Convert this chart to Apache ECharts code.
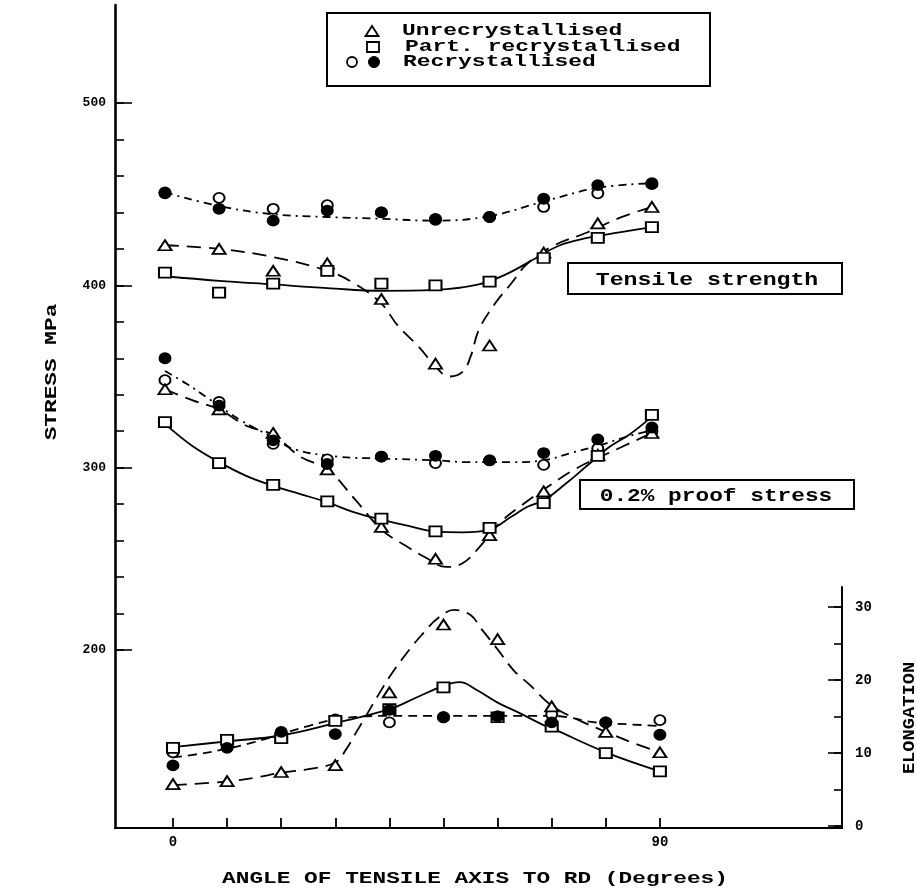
<!DOCTYPE html>
<html>
<head>
<meta charset="utf-8">
<script src="https://cdn.jsdelivr.net/npm/echarts@6/dist/echarts.min.js"></script>
<style>
html,body{margin:0;padding:0;background:#fff;}
#c{width:917px;height:889px;}
</style>
</head>
<body>
<div id="c"></div>
<script>
// ---------- DATA ----------
const angles = [0, 10, 20, 30, 40, 50, 60, 70, 80, 90];

// Tensile strength (MPa)
const tsUnrec      = [422, 420, 408, 412, 392.5, 357, 367, 418, 434, 443];
const tsPart       = [407, 396, 401, 408, 401, 400, 402, 415, 426, 432];
const tsRecOpen    = [451, 448, 442, 444, 440, 436, 437.5, 443, 450.5, 456];
const tsRecFilled  = [450.5, 442, 435.5, 441, 440, 436.5, 437.5, 447.5, 455, 455.5];

// 0.2% proof stress (MPa)
const psUnrec      = [343, 332, 319, 299, 267.5, 250, 263, 287, 307, 319];
const psPart       = [325, 302.5, 290.5, 281.5, 272, 265, 267, 280.5, 306.5, 329];
const psRecOpen    = [348, 336, 313, 304.5, 306, 302.5, 304, 301.5, 310.5, 320];
const psRecFilled  = [360, 334, 315, 302, 306, 306.5, 304, 308, 315.5, 322];

// Elongation (%)
const elUnrec      = [5.75, 6.15, 7.4, 8.35, 18.3, 27.6, 25.6, 16.4, 12.9, 10.1];
const elPart       = [10.7, 11.8, 12.05, 14.4, 16.0, 19.0, 14.9, 13.6, 10.0, 7.5];
const elRecOpen    = [10.1, 11.6, 12.3, 14.6, 14.2, 14.9, 15.0, 15.3, 14.2, 14.5];
const elRecFilled  = [8.3, 10.7, 12.9, 12.6, 15.9, 14.9, 15.0, 14.2, 14.2, 12.5];

// Fitted curves
const tsUnrecCurveX = [0, 10, 20, 30, 35, 40, 43, 47, 50, 52.5, 55, 56.5, 58, 61, 64, 67, 72, 78, 84, 90];
const tsUnrecCurveY = [422, 420, 415.5, 408, 401, 390, 378, 366, 355.5, 350, 352.5, 361, 375.5, 390, 401, 412, 422, 429, 437, 443];
const tsPartCurveX  = [0, 10, 20, 30, 40, 50, 58, 63, 68, 73, 78, 84, 90];
const tsPartCurveY  = [405, 402.5, 400.5, 398.5, 397, 397.5, 400.5, 406, 414, 422, 426, 429, 432];
const tsRecCurveX   = [0, 10, 20, 30, 40, 50, 60, 70, 80, 90];
const tsRecCurveY   = [451, 443.5, 439, 437.5, 436.5, 435.5, 438, 446, 453.5, 456];

const psUnrecCurveX = [0, 5, 10, 15, 20, 25, 30, 35, 40, 44, 48, 52, 55, 58, 62, 66, 70, 76, 82, 90];
const psUnrecCurveY = [343, 337, 332, 323, 318, 306, 299, 283, 266, 258, 251, 245.5, 247.5, 256, 270, 279.5, 288, 299.5, 308, 319];
const psPartCurveX  = [0, 5, 10, 15, 20, 25, 30, 35, 40, 45, 50, 55, 60, 64, 67, 70, 74, 78, 82, 86, 90];
const psPartCurveY  = [324, 312, 303, 295.5, 290, 285.5, 281, 275.5, 271.5, 268, 265, 264.5, 266, 273, 278.5, 282, 291, 301, 311, 318.5, 328];
const psRecCurveX   = [0, 4, 8, 14, 20, 24, 32, 40, 50, 56, 64, 70, 75, 80, 86, 90];
const psRecCurveY   = [353, 346, 338, 326, 316.5, 310, 306, 305, 304, 303, 303, 304, 308, 312, 317.5, 320.5];

const elUnrecCurveX = [0, 10, 15, 20, 25, 30, 32, 34, 36, 38, 40, 43, 46, 49, 52, 55, 57, 60, 63, 66, 70, 75, 80, 85, 90];
const elUnrecCurveY = [5.6, 6.1, 6.6, 7.3, 7.8, 8.7, 10.5, 13, 15.5, 18, 20.4, 23.5, 26.2, 28.5, 29.6, 28.9, 27, 24.2, 21.3, 19.3, 16.5, 14.5, 12.9, 11.4, 10.1];
const elPartCurveX  = [0, 10, 20, 30, 40, 45, 50, 53, 56, 60, 64, 68, 70, 80, 90];
const elPartCurveY  = [10.8, 11.6, 12.4, 14.1, 16.0, 17.6, 19.2, 19.7, 18.7, 16.9, 15.5, 14.0, 13.4, 10.1, 7.5];
const elRecCurveX   = [0, 5, 10, 15, 20, 25, 30, 35, 40, 50, 60, 70, 73, 77, 80, 85, 90];
const elRecCurveY   = [9.4, 9.9, 10.6, 11.5, 12.6, 13.7, 14.6, 15.0, 15.1, 15.1, 15.1, 15.1, 14.9, 14.3, 14.1, 13.9, 13.7];

// Tick / label values
const stressMinorTicks = [200, 220, 240, 260, 280, 300, 320, 340, 360, 380, 400, 420, 440, 460, 480, 500];
const stressLabels = [200, 300, 400, 500];
const elongMinorTicks = [0, 5, 10, 15, 20, 25, 30];
const elongLabels = [0, 10, 20, 30];
const angleTicks = [0, 10, 20, 30, 40, 50, 60, 70, 80, 90];
const angleLabels = [0, 90];

// ---------- CHART ----------
const FONT = '"Liberation Mono", "Courier New", monospace';
const pair = (xs, ys) => xs.map((x, i) => [x, ys[i]]);

function curve(xs, ys, dash, xi, yi) {
  return {
    type: 'line', data: pair(xs, ys), xAxisIndex: xi, yAxisIndex: yi,
    smooth: 0.4, symbol: 'none', silent: true, z: 2,
    lineStyle: { color: '#000', width: 1.8, type: dash, cap: 'butt' }
  };
}
function marks(ys, symbol, size, filled, xi, yi) {
  return {
    type: 'scatter', data: pair(angles, ys), xAxisIndex: xi, yAxisIndex: yi,
    symbol: symbol, symbolSize: size, silent: true, z: filled ? 4 : 3,
    itemStyle: { color: filled ? '#000' : '#fff', borderColor: '#000', borderWidth: 1.9, opacity: 1 }
  };
}

const DASH_LONG = [14, 8];
const DASH_DOT = [8, 5, 2, 5];
const DASH_SHORT = [9, 6];
const TRI = [13, 10], SQ = [12, 10], CIR = [11, 10];

const chart = echarts.init(document.getElementById('c'), null, { renderer: 'canvas' });

const option = {
  backgroundColor: '#fff',
  animation: false,
  grid: [
    { left: 115, right: 75, top: 5, bottom: 61 },
    { left: 115, right: 75, top: 587, bottom: 61 }
  ],
  xAxis: [
    { type: 'value', gridIndex: 0, min: -9.24, max: 125.14, show: false },
    {
      type: 'value', gridIndex: 1, min: -10.72, max: 123.66,
      axisLine: { show: true, onZero: false, lineStyle: { color: '#000', width: 2 } },
      axisTick: { show: true, inside: true, length: 10, customValues: angleTicks, lineStyle: { color: '#000', width: 1.8 } },
      axisLabel: { show: true, customValues: angleLabels, margin: 7, color: '#000', fontFamily: FONT, fontWeight: 'bold', fontSize: 14 },
      splitLine: { show: false }
    }
  ],
  yAxis: [
    {
      type: 'value', gridIndex: 0, position: 'left', min: 102.3, max: 553.8,
      axisLine: { show: true, onZero: false, lineStyle: { color: '#000', width: 2.6 } },
      axisTick: { show: true, inside: true, length: 9, customValues: stressMinorTicks, lineStyle: { color: '#000', width: 1.6 } },
      axisLabel: { show: true, customValues: stressLabels, margin: 9, color: '#000', fontFamily: FONT, fontWeight: 'bold', fontSize: 13 },
      splitLine: { show: false }
    },
    {
      type: 'value', gridIndex: 0, position: 'left', min: 102.3, max: 553.8,
      axisLine: { show: false, onZero: false },
      axisTick: { show: true, inside: true, length: 17, customValues: stressLabels, lineStyle: { color: '#000', width: 1.6 } },
      axisLabel: { show: false },
      splitLine: { show: false }
    },
    {
      type: 'value', gridIndex: 1, position: 'right', min: -0.27, max: 32.74,
      axisLine: { show: true, onZero: false, lineStyle: { color: '#000', width: 2 } },
      axisTick: { show: true, inside: true, length: 8, customValues: elongMinorTicks, lineStyle: { color: '#000', width: 1.6 } },
      axisLabel: { show: true, customValues: elongLabels, margin: 13, color: '#000', fontFamily: FONT, fontWeight: 'bold', fontSize: 14 },
      splitLine: { show: false }
    },
    {
      type: 'value', gridIndex: 1, position: 'right', min: -0.27, max: 32.74,
      axisLine: { show: false, onZero: false },
      axisTick: { show: true, inside: true, length: 14, customValues: elongLabels, lineStyle: { color: '#000', width: 1.6 } },
      axisLabel: { show: false },
      splitLine: { show: false }
    }
  ],
  series: [
    // curves
    curve(tsUnrecCurveX, tsUnrecCurveY, DASH_LONG, 0, 0),
    curve(tsPartCurveX, tsPartCurveY, 'solid', 0, 0),
    curve(tsRecCurveX, tsRecCurveY, DASH_DOT, 0, 0),
    curve(psUnrecCurveX, psUnrecCurveY, DASH_LONG, 0, 0),
    curve(psPartCurveX, psPartCurveY, 'solid', 0, 0),
    curve(psRecCurveX, psRecCurveY, DASH_DOT, 0, 0),
    curve(elUnrecCurveX, elUnrecCurveY, DASH_LONG, 1, 2),
    curve(elPartCurveX, elPartCurveY, 'solid', 1, 2),
    curve(elRecCurveX, elRecCurveY, DASH_SHORT, 1, 2),
    // markers
    marks(tsRecOpen, 'circle', CIR, false, 0, 0),
    marks(tsRecFilled, 'circle', CIR, true, 0, 0),
    marks(tsUnrec, 'triangle', TRI, false, 0, 0),
    marks(tsPart, 'rect', SQ, false, 0, 0),
    marks(psRecOpen, 'circle', CIR, false, 0, 0),
    marks(psRecFilled, 'circle', CIR, true, 0, 0),
    marks(psUnrec, 'triangle', TRI, false, 0, 0),
    marks(psPart, 'rect', SQ, false, 0, 0),
    marks(elRecOpen, 'circle', CIR, false, 1, 2),
    marks(elRecFilled, 'circle', CIR, true, 1, 2),
    marks(elUnrec, 'triangle', TRI, false, 1, 2),
    marks(elPart, 'rect', SQ, false, 1, 2)
  ],
  graphic: [
    // legend box
    { type: 'rect', shape: { x: 327, y: 13, width: 383, height: 73 }, style: { fill: 'none', stroke: '#000', lineWidth: 2 }, z: 10 },
    { type: 'polygon', shape: { points: [[365.5, 36], [378.5, 36], [372, 26]] }, style: { fill: '#fff', stroke: '#000', lineWidth: 1.8 }, z: 10 },
    { type: 'rect', shape: { x: 367, y: 42, width: 12, height: 10 }, style: { fill: '#fff', stroke: '#000', lineWidth: 1.8 }, z: 10 },
    { type: 'circle', shape: { cx: 352, cy: 62, r: 5 }, style: { fill: '#fff', stroke: '#000', lineWidth: 1.8 }, z: 10 },
    { type: 'circle', shape: { cx: 374, cy: 62, r: 5.5 }, style: { fill: '#000', stroke: '#000', lineWidth: 1 }, z: 10 },
    { type: 'text', x: 402, y: 31, scaleX: 1.35, z: 10,
      style: { text: 'Unrecrystallised', textAlign: 'left', verticalAlign: 'middle', fontFamily: FONT, fontWeight: 'bold', fontSize: 17, fill: '#000' } },
    { type: 'text', x: 405, y: 47, scaleX: 1.35, z: 10,
      style: { text: 'Part. recrystallised', textAlign: 'left', verticalAlign: 'middle', fontFamily: FONT, fontWeight: 'bold', fontSize: 17, fill: '#000' } },
    { type: 'text', x: 403, y: 62, scaleX: 1.35, z: 10,
      style: { text: 'Recrystallised', textAlign: 'left', verticalAlign: 'middle', fontFamily: FONT, fontWeight: 'bold', fontSize: 17, fill: '#000' } },
    // annotation boxes
    { type: 'rect', shape: { x: 568, y: 263, width: 274, height: 31 }, style: { fill: '#fff', stroke: '#000', lineWidth: 2 }, z: 10 },
    { type: 'text', x: 707, y: 280, scaleX: 1.22, z: 11,
      style: { text: 'Tensile strength', textAlign: 'center', verticalAlign: 'middle', fontFamily: FONT, fontWeight: 'bold', fontSize: 19, fill: '#000' } },
    { type: 'rect', shape: { x: 580, y: 480, width: 274, height: 29 }, style: { fill: '#fff', stroke: '#000', lineWidth: 2 }, z: 10 },
    { type: 'text', x: 716, y: 496, scaleX: 1.2, z: 11,
      style: { text: '0.2% proof stress', textAlign: 'center', verticalAlign: 'middle', fontFamily: FONT, fontWeight: 'bold', fontSize: 19, fill: '#000' } },
    // axis titles
    { type: 'text', x: 475, y: 879, scaleX: 1.34, z: 10,
      style: { text: 'ANGLE OF TENSILE AXIS TO RD (Degrees)', textAlign: 'center', verticalAlign: 'middle', fontFamily: FONT, fontWeight: 'bold', fontSize: 17, fill: '#000' } },
    { type: 'text', x: 52, y: 372, rotation: Math.PI / 2, scaleX: 1.34, z: 10,
      style: { text: 'STRESS MPa', textAlign: 'center', verticalAlign: 'middle', fontFamily: FONT, fontWeight: 'bold', fontSize: 17, fill: '#000' } },
    { type: 'text', x: 910, y: 718, rotation: Math.PI / 2, scaleX: 1.1, z: 10,
      style: { text: 'ELONGATION', textAlign: 'center', verticalAlign: 'middle', fontFamily: FONT, fontWeight: 'bold', fontSize: 17, fill: '#000' } }
  ]
};

chart.setOption(option);
</script>
</body>
</html>
